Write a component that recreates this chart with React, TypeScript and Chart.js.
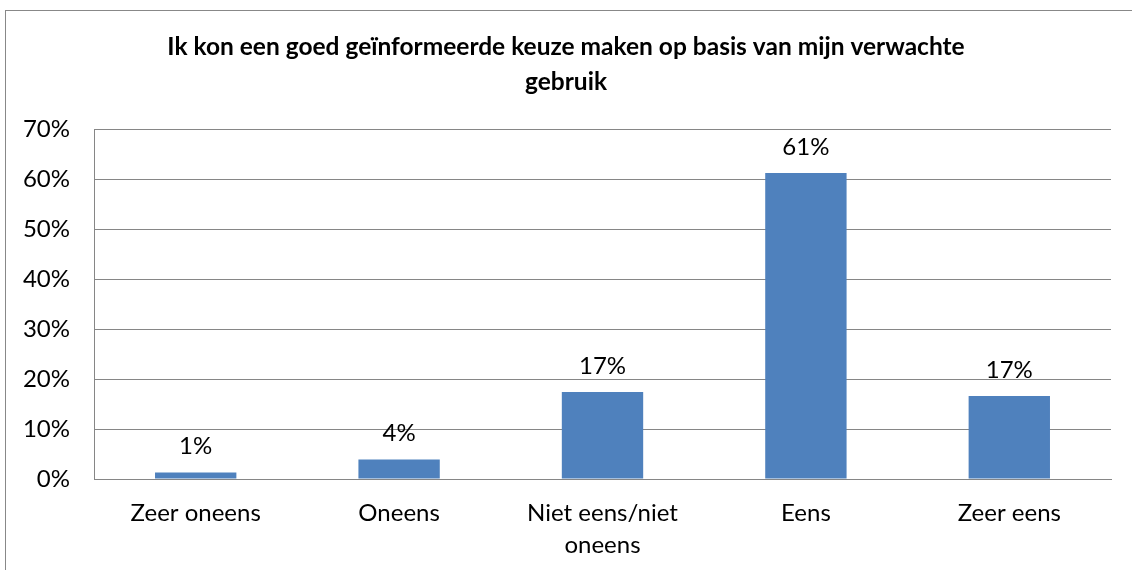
import React, { useEffect, useRef } from 'react';
import { Chart, registerables } from 'chart.js';

Chart.register(...registerables);

const TITLE_LINES: string[] = [
  'Ik kon een goed geïnformeerde keuze maken op basis van mijn verwachte',
  'gebruik',
];
const CATEGORIES: string[][] = [
  ['Zeer oneens'],
  ['Oneens'],
  ['Niet eens/niet', 'oneens'],
  ['Eens'],
  ['Zeer eens'],
];
const VALUES: number[] = [1.3, 3.9, 17.4, 61.2, 16.6];
const VALUE_LABELS: string[] = ['1%', '4%', '17%', '61%', '17%'];
const Y_MIN = 0;
const Y_MAX = 70;
const Y_STEP = 10;

const FONT = 'Lato, Carlito, Calibri, "Noto Sans", sans-serif';
const BAR_COLOR = '#4F81BD';
const GRID_COLOR = '#868686';
const TEXT_SIZE = 24;

const dataLabelPlugin = {
  id: 'dataLabels',
  afterDatasetsDraw(chart: any) {
    const ctx = chart.ctx;
    const meta = chart.getDatasetMeta(0);
    ctx.save();
    ctx.font = `${TEXT_SIZE}px ${FONT}`;
    ctx.fillStyle = '#000';
    ctx.textAlign = 'center';
    ctx.textBaseline = 'middle';
    meta.data.forEach((bar: any, i: number) => {
      ctx.fillText(VALUE_LABELS[i], bar.x, bar.y - 26);
    });
    ctx.restore();
  },
};

export default function App() {
  const canvasRef = useRef<HTMLCanvasElement | null>(null);

  useEffect(() => {
    if (!canvasRef.current) return;
    const chart = new Chart(canvasRef.current, {
      type: 'bar',
      data: {
        labels: CATEGORIES,
        datasets: [
          {
            data: VALUES,
            backgroundColor: BAR_COLOR,
            borderWidth: 0,
            categoryPercentage: 1,
            barPercentage: 0.4,
          },
        ],
      },
      options: {
        responsive: false,
        animation: false,
        devicePixelRatio: 1,
        layout: { padding: { left: 5, top: 10, right: 5, bottom: 0 } },
        plugins: {
          legend: { display: false },
          tooltip: { enabled: false },
          title: {
            display: true,
            text: TITLE_LINES,
            color: '#000',
            font: { family: FONT, size: 24.5, weight: 'bold', lineHeight: '35px' as any },
            padding: { top: 19.5, bottom: 29.5 },
          },
        },
        scales: {
          x: {
            grid: { display: false, drawTicks: false },
            border: { display: true, color: GRID_COLOR, width: 1 },
            ticks: {
              color: '#000',
              font: { family: FONT, size: TEXT_SIZE, lineHeight: '32px' as any },
              padding: 18,
              maxRotation: 0,
              autoSkip: false,
            },
            afterFit(scale: any) {
              scale.height = 91;
            },
          },
          y: {
            min: Y_MIN,
            max: Y_MAX,
            grid: { color: GRID_COLOR, lineWidth: 1, drawTicks: false },
            border: { display: true, color: GRID_COLOR, width: 1 },
            ticks: {
              stepSize: Y_STEP,
              color: '#000',
              font: { family: FONT, size: TEXT_SIZE },
              padding: 24,
              callback: (v: any) => `${v}%`,
            },
            afterFit(scale: any) {
              scale.width = 89;
            },
          },
          yRightSpacer: {
            position: 'right',
            min: Y_MIN,
            max: Y_MAX,
            grid: { display: false, drawTicks: false },
            border: { display: false },
            ticks: { display: false },
            afterFit(scale: any) {
              scale.width = 16;
            },
          },
        },
      },
      plugins: [dataLabelPlugin],
    });
    return () => chart.destroy();
  }, []);

  return (
    <div style={{ position: 'absolute', left: 0, top: 0, width: 1132, height: 570, background: '#fff', overflow: 'hidden' }}>
      <div
        style={{
          position: 'absolute',
          left: 5,
          top: 10,
          width: 1140,
          height: 580,
          borderLeft: '1px solid #888',
          borderTop: '1px solid #888',
          boxSizing: 'border-box',
        }}
      />
      <canvas ref={canvasRef} width={1132} height={570} style={{ position: 'absolute', left: 0, top: 0, width: 1132, height: 570 }} />
    </div>
  );
}
